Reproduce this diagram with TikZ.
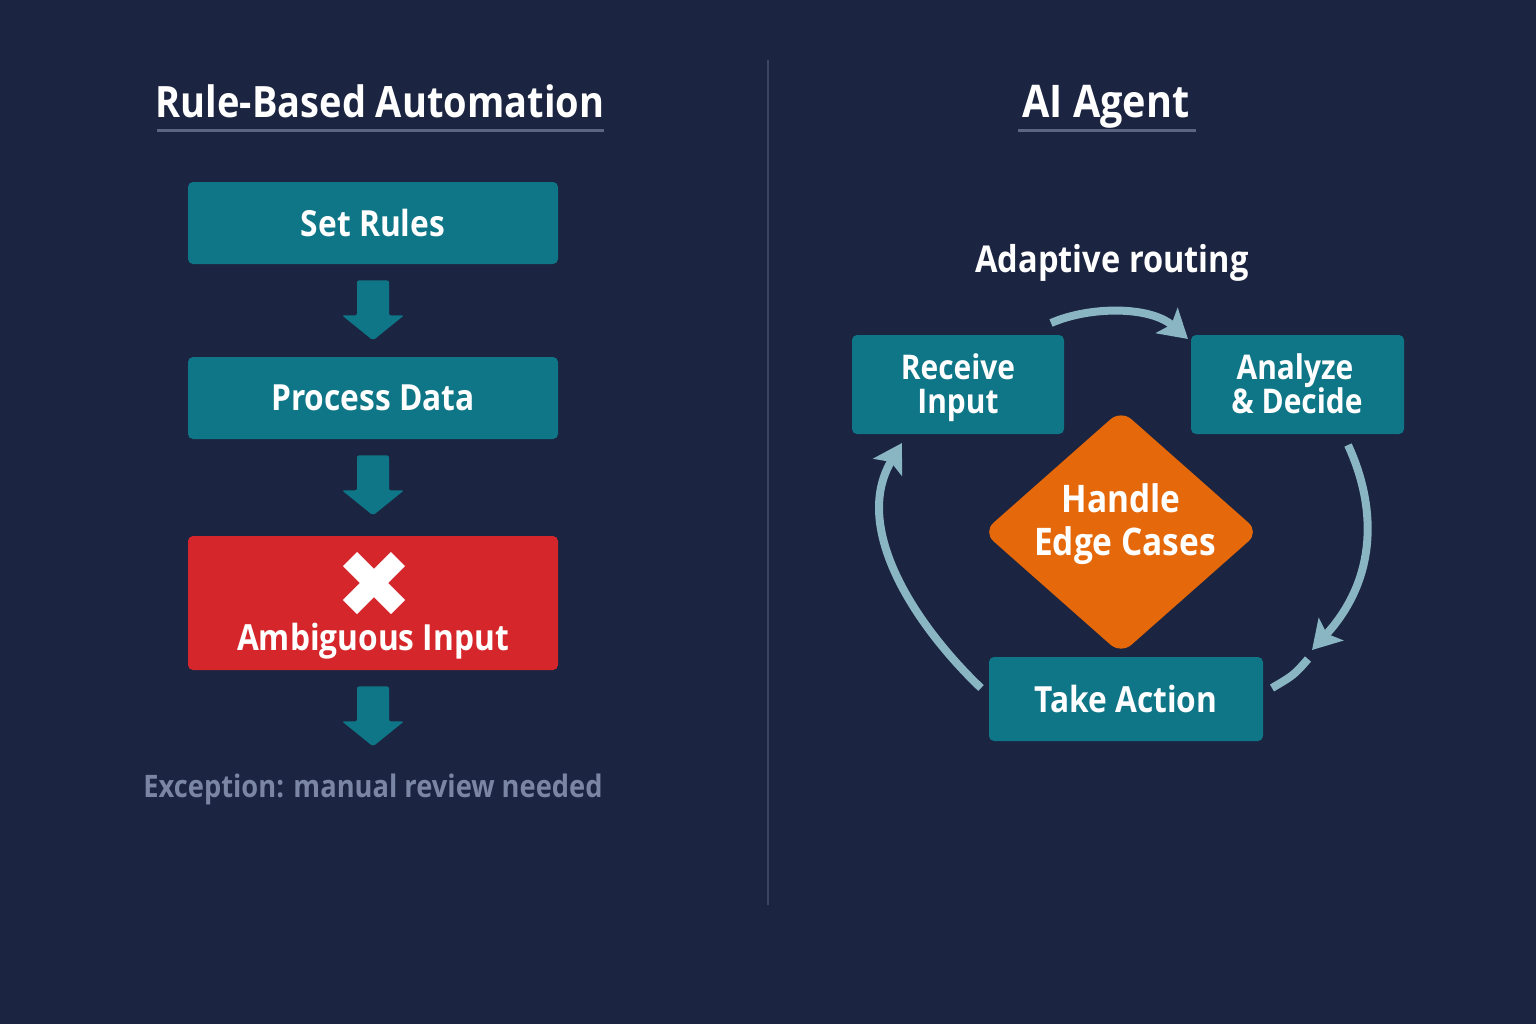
\documentclass[tikz,border=0pt]{standalone}
\usepackage{fontspec}
\setmainfont{Open Sans}[FakeStretch=0.88]
\usetikzlibrary{arrows.meta,calc}
\definecolor{bgc}{HTML}{1B2440}
\definecolor{tealc}{HTML}{0E7686}
\definecolor{redc}{HTML}{D5272B}
\definecolor{orc}{HTML}{E5680A}
\definecolor{arrc}{HTML}{8AB5C3}
\definecolor{linec}{HTML}{5C6582}
\definecolor{divc}{HTML}{3C4662}
\definecolor{excc}{HTML}{7A86A4}
\begin{document}
\begin{tikzpicture}[x=0.5pt,y=-0.5pt,
  box/.style={fill=tealc, rounded corners=2.5pt, text=white, align=center, inner sep=0pt,
    font=\bfseries\fontsize{18}{21.5}\selectfont},
  smallbox/.style={box, minimum width=106pt, minimum height=49.5pt},
  lbl/.style={text=white, inner sep=0pt, anchor=base},
  lblsmall/.style={lbl, font=\bfseries\fontsize{17}{17}\selectfont},
  lbldiam/.style={lbl, font=\bfseries\fontsize{19}{19}\selectfont},
  ttl/.style={text=white, inner sep=0pt, anchor=base, font=\bfseries\fontsize{21.6}{26}\selectfont},
  uline/.style={draw=linec, line width=1.5pt},
  cyc/.style={draw=arrc, line width=4pt, -{Stealth[length=14pt,width=16.5pt,inset=3pt]}},
  cycplain/.style={draw=arrc, line width=4pt},
  blockdown/.pic={\fill[tealc, rounded corners=1pt] (-16,16) -- (16,16) -- (16,51) -- (31,51) -- (0,76) -- (-31,51) -- (-16,51) -- cycle;}
]
\useasboundingbox (0,0) rectangle (1536,1024);
\fill[bgc] (0,0) rectangle (1536,1024);

% divider
\draw[divc, line width=1pt] (768,60) -- (768,905);

% ---------- left: rule-based ----------
\node[ttl] (t1) at (380,117) {Rule-Based Automation};
\draw[uline] (157,130) -- (604,130);

\node[box, minimum width=185pt, minimum height=41pt, text depth=0pt] (set) at (373,223) {Set Rules};
\node[box, minimum width=185pt, minimum height=41pt, text depth=0pt] (proc) at (373,398) {Process Data};
\node[box, fill=redc, minimum width=185pt, minimum height=67pt] (amb) at (373,603) {};
\draw[white, line width=10pt] (350,559) -- (398,607);
\draw[white, line width=10pt] (350,607) -- (398,559);
\node[lbl, font=\bfseries\fontsize{18}{21.5}\selectfont] (ambt) at (373,650) {Ambiguous Input};

\pic at (set.south) {blockdown};
\pic at (proc.south) {blockdown};
\pic at (amb.south) {blockdown};

\node[lbl, text=excc, font=\bfseries\fontsize{15.5}{18}\selectfont] (exc) at (373,797) {Exception: manual review needed};

% ---------- right: AI agent ----------
\node[ttl, font=\bfseries\fontsize{22.5}{26}\selectfont] (t2) at (1106,117) {AI Agent};
\draw[uline] (1018,130) -- (1196,130);

\node[lbl, font=\bfseries\fontsize{18.5}{22}\selectfont] (adapt) at (1112,272) {Adaptive routing};

\node[smallbox] (recv) at (958,384.5) {};
\node[lblsmall] (recv1) at (958,379) {Receive};
\node[lblsmall] (recv2) at (958,413) {Input};
\node[smallbox, minimum width=106.5pt] (anal) at (1297.5,384.5) {};
\node[lblsmall] (anal1) at (1295,379) {Analyze};
\node[lblsmall] (anal2) at (1297,413) {\& Decide};
\node[box, minimum width=137pt, minimum height=42pt, text depth=0pt] (take) at (1126,699) {Take Action};

\fill[orc, rounded corners=7pt] (1121,410) -- (1259,532) -- (1121,654) -- (983,532) -- cycle;
\coordinate (diam) at (1121,532);
\node[lbldiam] (diam1) at (1121,512) {Handle};
\node[lbldiam] (diam2) at (1125,555) {Edge Cases};

% cycle connectors
\coordinate (a1) at (1051,323);
\coordinate (a2) at (1188,339);
\coordinate (b1) at (1348,445);
\coordinate (b2) at (1312,650);
\coordinate (d1) at (1308,659);
\coordinate (d2) at (1272,688);
\coordinate (e1) at (981,688);
\coordinate (e2) at (902,443);
\draw[cyc] (a1) .. controls (1090,306) and (1150,306) .. (a2);
\draw[cyc] (b1) .. controls (1378,510) and (1376,580) .. (b2);
\draw[cycplain] (d1) .. controls (1294,675) .. (d2);
\draw[cyc] (e1) .. controls (920,630) and (850,530) .. (e2);
\end{tikzpicture}
\end{document}
